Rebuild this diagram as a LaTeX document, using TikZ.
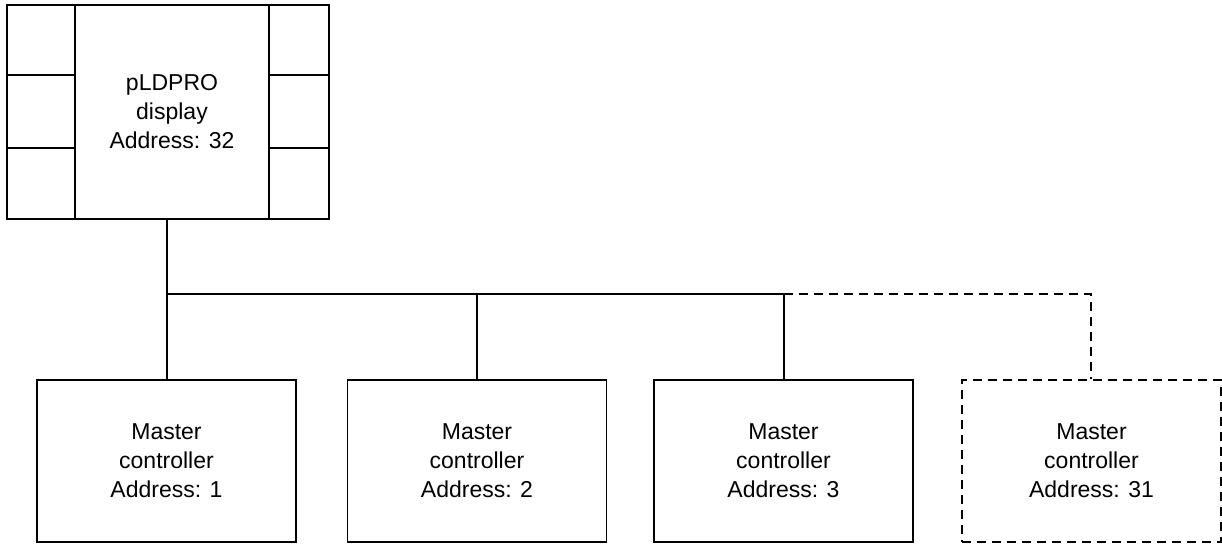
\documentclass[tikz,border=0pt]{standalone}
\usepackage{fontspec}
\setmainfont{Liberation Sans}
\begin{document}
\begin{tikzpicture}[x=1pt,y=-1pt,
  box/.style={draw, line width=1.4pt, minimum width=259pt, minimum height=162pt, inner sep=0pt,
    align=center, font=\fontsize{23}{29}\selectfont},
  dbox/.style={box, dash pattern=on 9pt off 6pt},
  wire/.style={line width=1.4pt},
  dwire/.style={wire, dash pattern=on 9pt off 6pt}]
\useasboundingbox (0,0) rectangle (1222,543);
% display
\node[draw, line width=1.4pt, minimum width=322pt, minimum height=214pt, inner sep=0pt] (disp) at (168,112) {};
\node[draw, line width=1.4pt, minimum width=194pt, minimum height=214pt, inner sep=0pt, align=center,
  font=\fontsize{23}{29}\selectfont] (scr) at (172,112) {pLDPRO\\display\\Address: 32};
\draw[wire] (disp.west |- 0,75) -- (scr.west |- 0,75);
\draw[wire] (disp.west |- 0,148) -- (scr.west |- 0,148);
\draw[wire] (scr.east |- 0,75) -- (disp.east |- 0,75);
\draw[wire] (scr.east |- 0,148) -- (disp.east |- 0,148);
% controllers
\node[box] (m1) at (166.5,461) {Master\\controller\\Address: 1};
\node[box] (m2) at (477,461) {Master\\controller\\Address: 2};
\node[box] (m3) at (783.5,461) {Master\\controller\\Address: 3};
\node[dbox] (m4) at (1091.5,461) {Master\\controller\\Address: 31};
% bus
\coordinate (j1) at (167,294);
\coordinate (j2) at (477,294);
\coordinate (j3) at (784,294);
\coordinate (j4) at (1091,294);
\draw[wire] (j1 |- disp.south) -- (j1 |- m1.north);
\draw[wire] (j1) -- (j3);
\draw[wire] (j2) -- (j2 |- m2.north);
\draw[wire] (j3) -- (j3 |- m3.north);
\draw[dwire] (j3) -- (j4) -- (j4 |- m4.north);
\end{tikzpicture}
\end{document}
